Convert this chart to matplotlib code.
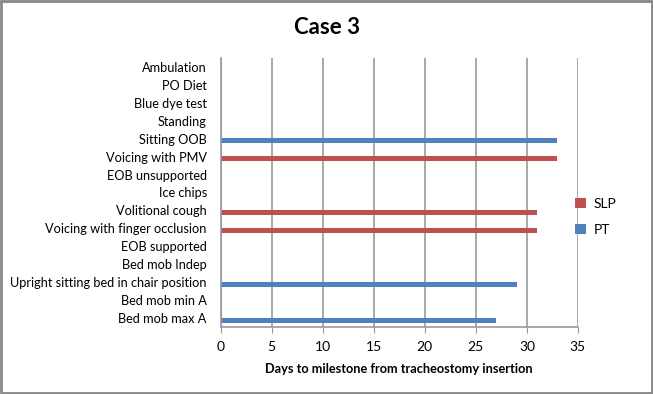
import numpy as np
import matplotlib.pyplot as plt
from matplotlib.patches import Rectangle

plt.rcParams['font.family'] = ['Lato', 'DejaVu Sans']

milestones = ["Bed mob max A", "Bed mob min A", "Upright sitting bed in chair position",
              "Bed mob Indep", "EOB supported", "Voicing with finger occlusion",
              "Volitional cough", "Ice chips", "EOB unsupported", "Voicing with PMV",
              "Sitting OOB", "Standing", "Blue dye test", "PO Diet", "Ambulation"]
pt_days = [27, 0, 29, 0, 0, 0, 0, 0, 0, 0, 33, 0, 0, 0, 0]
slp_days = [0, 0, 0, 0, 0, 31, 31, 0, 0, 33, 0, 0, 0, 0, 0]
x_ticks = [0, 5, 10, 15, 20, 25, 30, 35]

fig = plt.figure(figsize=(6.53, 3.94), dpi=100)
ax = fig.add_axes([0.338, 0.170, 0.547, 0.683])

y = np.arange(len(milestones))
ax.barh(y - 0.12, pt_days, height=0.3, color="#4F81BD", label="PT")
ax.barh(y - 0.12, slp_days, height=0.3, color="#C0504D", label="SLP")

ax.set_xlim(0, 35)
ax.set_ylim(-0.5, len(milestones) - 0.5)
ax.set_xticks(x_ticks)
ax.set_yticks(y)
ax.set_yticklabels(milestones, fontsize=9.2)
ax.tick_params(axis='x', labelsize=10, length=4, color="#999999", pad=6)
ax.tick_params(axis='y', length=0, pad=10)
ax.grid(axis='x', color="#999999", linewidth=1.2)
ax.set_axisbelow(True)
for s in ["top", "right"]:
    ax.spines[s].set_visible(False)
for s in ["left", "bottom"]:
    ax.spines[s].set_color("#999999")
    ax.spines[s].set_linewidth(1.2)

ax.set_xlabel("Days to milestone from tracheostomy insertion", fontsize=9.2, fontweight="bold", labelpad=7)
fig.text(0.5, 0.93, "Case 3", ha="center", va="center", fontsize=16, fontweight="bold")

handles, labels = ax.get_legend_handles_labels()
fig.legend(handles[::-1], labels[::-1], loc="center left", bbox_to_anchor=(0.862, 0.45),
           frameon=False, fontsize=10, handlelength=0.8, handleheight=0.8,
           handletextpad=0.5, labelspacing=1.0)

fig.patches.append(Rectangle((0.002, 0.003), 0.996, 0.994, transform=fig.transFigure,
                             fill=False, edgecolor="#888888", linewidth=2))

plt.savefig("out.png", dpi=100)
plt.close()
